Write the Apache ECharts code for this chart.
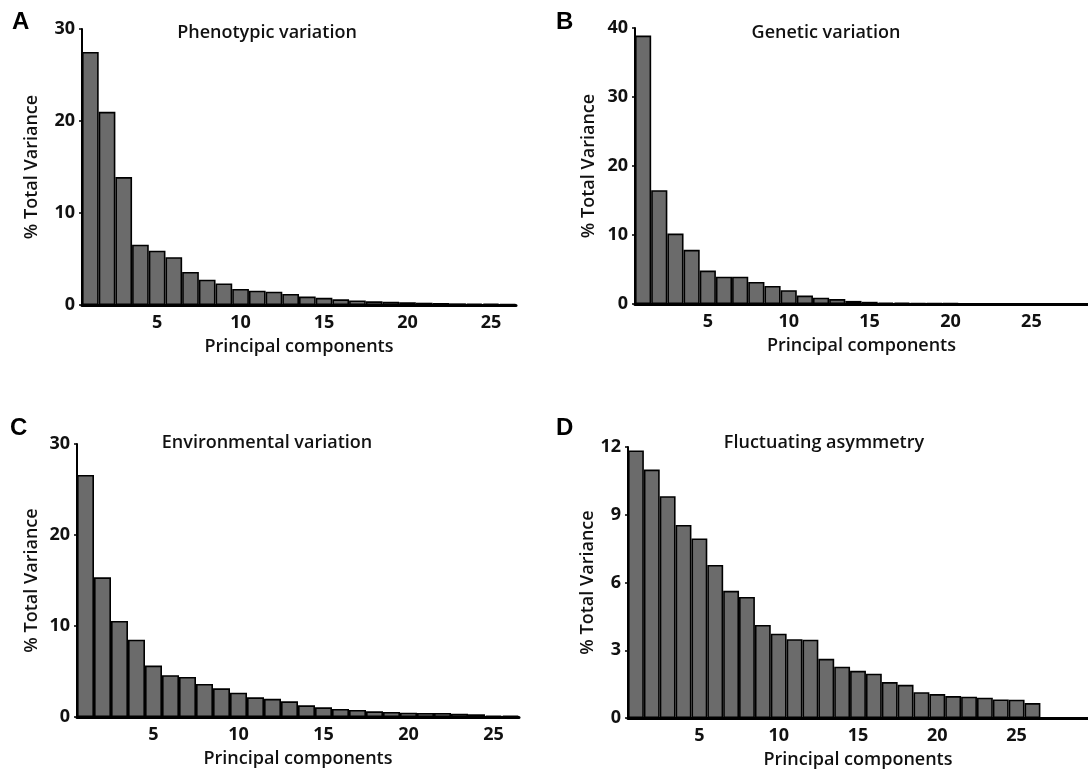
<!DOCTYPE html>
<html>
<head>
<meta charset="utf-8">
<script src="https://cdn.jsdelivr.net/npm/echarts@6/dist/echarts.min.js"></script>
<style>
  html, body { margin: 0; padding: 0; background: #fff; }
  #main { width: 1088px; height: 770px; }
</style>
</head>
<body>
<div id="main"></div>
<script>
// principal component numbers
var pcs = ['1','2','3','4','5','6','7','8','9','10','11','12','13','14','15',
           '16','17','18','19','20','21','22','23','24','25','26','27','28','29'];

// % total variance per PC
var phenotypic = [27.5, 21.0, 13.9, 6.55, 5.9, 5.2, 3.6, 2.75, 2.35, 1.75, 1.56, 1.45, 1.2,
                  0.92, 0.78, 0.62, 0.5, 0.4, 0.36, 0.3, 0.25, 0.22, 0.18, 0.16, 0.14, 0.12];
var genetic = [38.9, 16.5, 10.2, 7.85, 4.85, 3.95, 3.95, 3.2, 2.62, 2.0, 1.22, 0.92, 0.72,
               0.45, 0.32, 0.22, 0.18, 0.15, 0.12, 0.1, 0.08, 0.06, 0.05, 0.04, 0.04, 0.03, 0.03, 0.02];
var environmental = [26.6, 15.35, 10.55, 8.5, 5.65, 4.6, 4.4, 3.63, 3.15, 2.67, 2.16, 2.0, 1.72,
                     1.28, 1.06, 0.88, 0.77, 0.62, 0.55, 0.48, 0.44, 0.44, 0.37, 0.3, 0.15, 0.15];
var fluctuating = [11.85, 11.0, 9.82, 8.55, 7.95, 6.78, 5.63, 5.36, 4.12, 3.73, 3.49, 3.47, 2.62,
                   2.27, 2.09, 1.96, 1.59, 1.47, 1.14, 1.06, 0.97, 0.94, 0.9, 0.82, 0.81, 0.66];

var panelTitles = ['Phenotypic variation', 'Genetic variation', 'Environmental variation', 'Fluctuating asymmetry'];
var panelLetters = ['A', 'B', 'C', 'D'];
var yMax = [30, 40, 30, 12];
var yStep = [10, 10, 10, 3];

var font = '"Open Sans", Lato, sans-serif';

var grids = [
  { left: 82, top: 29, width: 434, height: 276 },
  { left: 635, top: 28, width: 453, height: 276 },
  { left: 77, top: 444, width: 442, height: 273 },
  { left: 628, top: 447, width: 460, height: 271 }
];
var catCount = [26, 28, 26, 29];
var seriesData = [phenotypic, genetic, environmental, fluctuating];
var yNameGap = [41, 37, 36, 30];

var xAxes = [], yAxes = [], series = [], graphics = [];
for (var i = 0; i < 4; i++) {
  xAxes.push({
    type: 'category',
    gridIndex: i,
    data: pcs.slice(0, catCount[i]),
    boundaryGap: true,
    name: 'Principal components',
    nameLocation: 'middle',
    nameGap: 33,
    nameTextStyle: { fontFamily: font, fontWeight: 600, fontSize: 18, color: '#111' },
    axisLine: { lineStyle: { color: '#000', width: 3 } },
    axisTick: { show: false },
    axisLabel: {
      interval: function (idx) { return (idx + 1) % 5 === 0; },
      fontFamily: font, fontWeight: 'bold', fontSize: 18, color: '#111', margin: 9
    },
    splitLine: { show: false }
  });
  yAxes.push({
    type: 'value',
    gridIndex: i,
    min: 0,
    max: yMax[i],
    interval: yStep[i],
    name: '% Total Variance',
    nameLocation: 'middle',
    nameGap: yNameGap[i],
    nameTextStyle: { fontFamily: font, fontWeight: 600, fontSize: 18, color: '#111' },
    axisLine: { show: true, lineStyle: { color: '#000', width: 2 } },
    axisTick: { show: true, length: 3, lineStyle: { color: '#000', width: 1.5 } },
    axisLabel: { fontFamily: font, fontWeight: 'bold', fontSize: 18, color: '#111', margin: 7 },
    splitLine: { show: false }
  });
  series.push({
    type: 'bar',
    xAxisIndex: i,
    yAxisIndex: i,
    data: seriesData[i],
    barCategoryGap: 0,
    itemStyle: { color: '#6b6b6b', borderColor: '#000', borderWidth: 1.6 },
    silent: true,
    animation: false
  });
}

var titlePos = [[267, 33], [826, 33], [267, 443], [824, 443]];
var letterPos = [[12, 22], [556, 22], [10, 428], [556, 428]];
for (var j = 0; j < 4; j++) {
  graphics.push({
    type: 'text', x: titlePos[j][0], y: titlePos[j][1],
    style: { text: panelTitles[j], fill: '#111', font: '600 18px ' + font, textAlign: 'center', textVerticalAlign: 'middle' }
  });
  graphics.push({
    type: 'text', x: letterPos[j][0], y: letterPos[j][1],
    style: { text: panelLetters[j], fill: '#000', font: 'bold 24px Arial, "Liberation Sans", sans-serif', textAlign: 'left', textVerticalAlign: 'middle' }
  });
}

var chart = echarts.init(document.getElementById('main'));
chart.setOption({
  backgroundColor: '#fff',
  animation: false,
  grid: grids,
  xAxis: xAxes,
  yAxis: yAxes,
  series: series,
  graphic: graphics
});
</script>
</body>
</html>
